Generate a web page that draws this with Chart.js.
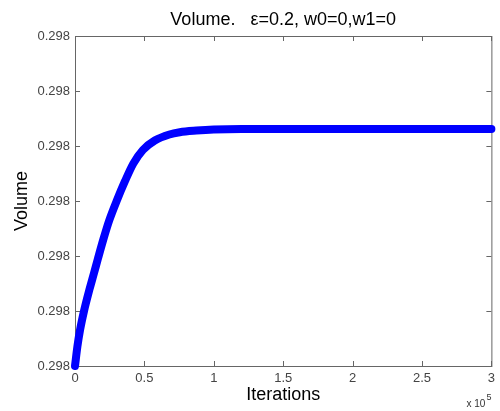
<!DOCTYPE html>
<html>
<head>
<meta charset="utf-8">
<script src="https://cdn.jsdelivr.net/npm/chart.js@4/dist/chart.umd.min.js"></script>
<style>
  html, body { margin: 0; padding: 0; background: #fff; }
</style>
</head>
<body>
<canvas id="chart1" width="500" height="411"></canvas>
<script>
/***  Volume vs iterations  ***/
var iterations = [0, 0.017, 0.036, 0.065, 0.103, 0.137, 0.165, 0.204, 0.247, 0.30, 0.36, 0.42, 0.49, 0.575, 0.68, 0.755, 0.875, 1.0, 1.2, 1.5, 2, 2.5, 3];
var volume = [0, 0.35, 0.65, 1.0, 1.38, 1.69, 1.95, 2.3, 2.65, 3.0, 3.36, 3.68, 3.93, 4.1, 4.21, 4.25, 4.28, 4.3, 4.31, 4.31, 4.31, 4.31, 4.31];
var yTickLabels = ['0.298', '0.298', '0.298', '0.298', '0.298', '0.298', '0.298'];
var xTickLabels = ['0', '0.5', '1', '1.5', '2', '2.5', '3'];

var points = [];
for (var i = 0; i < iterations.length; i++) {
    points.push({ x: iterations[i], y: volume[i] });
}

var FONT = "'Liberation Sans', Arial, sans-serif";

/* caja de ejes estilo matlab con ticks hacia adentro */
var boxPlugin = {
    id: 'matlabBox',
    beforeDatasetsDraw: function (chart) {
        var ctx = chart.ctx;
        var a = chart.chartArea;
        var xs = chart.scales.x, ys = chart.scales.y;
        ctx.save();
        ctx.strokeStyle = '#666';
        ctx.lineWidth = 1;
        ctx.strokeRect(a.left + 0.5, a.top + 0.5, a.right - a.left, a.bottom - a.top);
        ctx.beginPath();
        xs.ticks.forEach(function (t) {
            var px = Math.round(xs.getPixelForValue(t.value)) + 0.5;
            ctx.moveTo(px, a.bottom); ctx.lineTo(px, a.bottom - 5);
            ctx.moveTo(px, a.top); ctx.lineTo(px, a.top + 5);
        });
        ys.ticks.forEach(function (t) {
            var py = Math.round(ys.getPixelForValue(t.value)) + 0.5;
            ctx.moveTo(a.left, py); ctx.lineTo(a.left + 5, py);
            ctx.moveTo(a.right, py); ctx.lineTo(a.right - 5, py);
        });
        ctx.stroke();
        ctx.restore();
    },
    afterDraw: function (chart) {
        var ctx = chart.ctx;
        var a = chart.chartArea;
        ctx.save();
        ctx.fillStyle = '#333';
        ctx.textBaseline = 'alphabetic';
        ctx.textAlign = 'right';
        ctx.font = '10px ' + FONT;
        ctx.fillText('x 10', a.right - 6, 407);
        ctx.textAlign = 'left';
        ctx.font = '9px ' + FONT;
        ctx.fillText('5', a.right - 5, 400);
        ctx.restore();
    }
};

var ctx1 = document.getElementById('chart1').getContext('2d');
var myChart = new Chart(ctx1, {
    type: 'line',
    data: {
        datasets: [{
            label: 'Volume',
            data: points,
            borderColor: '#0000ff',
            backgroundColor: '#0000ff',
            borderWidth: 8,
            borderCapStyle: 'round',
            borderJoinStyle: 'round',
            cubicInterpolationMode: 'monotone',
            pointRadius: 0,
            fill: false,
            clip: false
        }]
    },
    options: {
        responsive: false,
        animation: false,
        devicePixelRatio: 1,
        layout: { padding: { top: 0, right: 8, bottom: 0, left: 0 } },
        plugins: {
            legend: { display: false },
            tooltip: { enabled: false },
            title: {
                display: true,
                fullSize: false,
                text: 'Volume.   \u03b5=0.2, w0=0,w1=0',
                color: '#000',
                font: { family: FONT, size: 18, weight: 'normal', lineHeight: 1.2 },
                padding: { top: 9, bottom: 5.4 }
            }
        },
        scales: {
            x: {
                type: 'linear',
                min: 0,
                max: 3,
                grid: { display: false, drawTicks: false },
                border: { display: false },
                ticks: {
                    stepSize: 0.5,
                    padding: 5,
                    color: '#444',
                    font: { family: FONT, size: 13 },
                    maxRotation: 0,
                    callback: function (v, idx) { return xTickLabels[idx]; }
                },
                title: {
                    display: true,
                    text: 'Iterations',
                    color: '#000',
                    font: { family: FONT, size: 18, lineHeight: 1.2 },
                    padding: { top: 0, bottom: 5 }
                },
                afterFit: function (scale) { scale.height = 45; }
            },
            y: {
                type: 'linear',
                min: 0,
                max: 6,
                grid: { display: false, drawTicks: false },
                border: { display: false },
                ticks: {
                    stepSize: 1,
                    padding: 5,
                    color: '#444',
                    font: { family: FONT, size: 13 },
                    callback: function (v, idx) { return yTickLabels[idx]; }
                },
                title: {
                    display: true,
                    text: 'Volume',
                    color: '#000',
                    font: { family: FONT, size: 18, lineHeight: 1.2 },
                    padding: { top: 11, bottom: 0 }
                },
                afterFit: function (scale) { scale.width = 75; }
            }
        }
    },
    plugins: [boxPlugin]
});
</script>
</body>
</html>
